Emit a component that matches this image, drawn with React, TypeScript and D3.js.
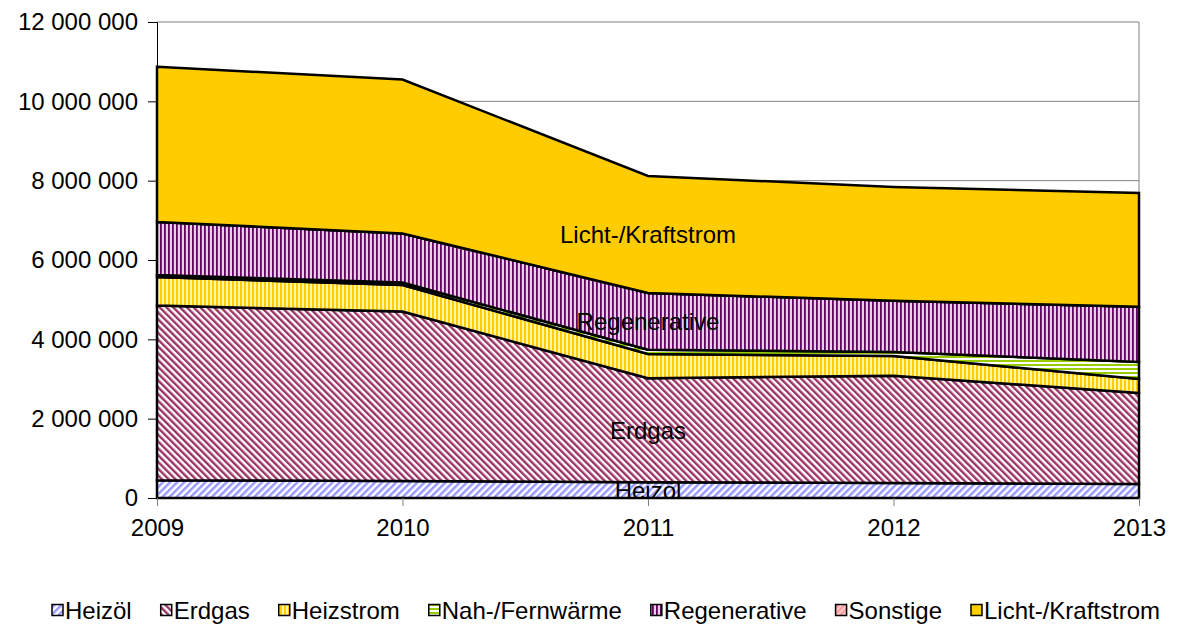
import React, { useEffect, useRef } from 'react';
import * as d3 from 'd3';

const years = [2009, 2010, 2011, 2012, 2013];
const seriesNames = ['Heizöl', 'Erdgas', 'Heizstrom', 'Nah-/Fernwärme', 'Regenerative', 'Sonstige', 'Licht-/Kraftstrom'];
const heizoel = [450000, 430000, 400000, 380000, 350000];
const erdgas = [4400000, 4270000, 2620000, 2700000, 2300000];
const heizstrom = [720000, 670000, 610000, 500000, 350000];
const fernwaerme = [50000, 60000, 110000, 100000, 430000];
const regenerative = [1340000, 1240000, 1430000, 1290000, 1390000];
const sonstige = [0, 0, 0, 0, 0];
const licht = [3910000, 3880000, 2950000, 2870000, 2870000];
const yTicks = [0, 2000000, 4000000, 6000000, 8000000, 10000000, 12000000];
// labels shown inside the chart (at 2011)
const areaLabels = ['Heizöl', 'Erdgas', 'Regenerative', 'Licht-/Kraftstrom'];

const FONT = '"Liberation Sans", Arial, sans-serif';

const App = () => {
  const svgRef = useRef<SVGSVGElement>(null);

  useEffect(() => {
    if (!svgRef.current) return;
    const svg = d3.select(svgRef.current);
    svg.selectAll('*').remove();

    const width = 1177;
    const height = 624;
    const margin = { top: 22, right: 38, bottom: 126, left: 157 };
    svg.attr('width', width).attr('height', height);

    const rows = years.map((y, i) => ({
      year: y,
      'Heizöl': heizoel[i],
      'Erdgas': erdgas[i],
      'Heizstrom': heizstrom[i],
      'Nah-/Fernwärme': fernwaerme[i],
      'Regenerative': regenerative[i],
      'Sonstige': sonstige[i],
      'Licht-/Kraftstrom': licht[i],
    }));

    const x = d3.scaleLinear().domain([2009, 2013]).range([margin.left, width - margin.right]);
    const y = d3.scaleLinear().domain([0, 12000000]).range([height - margin.bottom, margin.top]);

    // patterns
    const defs = svg.append('defs');
    const stripe = (id, size, c1, c2, w2, angle) => {
      const p = defs.append('pattern').attr('id', id).attr('patternUnits', 'userSpaceOnUse')
        .attr('width', size).attr('height', size)
        .attr('patternTransform', `rotate(${angle})`);
      p.append('rect').attr('width', size).attr('height', size).attr('fill', c1);
      p.append('rect').attr('width', w2).attr('height', size).attr('fill', c2);
    };
    stripe('p0', 5, '#ffffff', '#9999ff', 2.5, 45);
    stripe('p1', 4.8, '#ffffff', '#993366', 2.4, -45);
    stripe('p2', 4, '#fff7a8', '#ffcc00', 2, 0);
    stripe('p3', 4, '#ffffff', '#99cc00', 2, 90);
    stripe('p4', 4, '#e8cfe8', '#660066', 1.8, 0);
    stripe('p5', 4, '#ffcccc', '#ff9999', 2, 45);
    const fills = ['url(#p0)', 'url(#p1)', 'url(#p2)', 'url(#p3)', 'url(#p4)', 'url(#p5)', '#ffcc00'];

    // gridlines
    svg.append('g').selectAll('line').data(yTicks.slice(1)).enter().append('line')
      .attr('x1', margin.left).attr('x2', width - margin.right)
      .attr('y1', d => y(d)).attr('y2', d => y(d))
      .attr('stroke', '#808080').attr('stroke-width', 1);
    svg.append('line')
      .attr('x1', width - margin.right).attr('x2', width - margin.right)
      .attr('y1', margin.top).attr('y2', height - margin.bottom)
      .attr('stroke', '#808080').attr('stroke-width', 1);

    const stack = d3.stack().keys(seriesNames);
    const layers = stack(rows as any);

    const area = d3.area<any>()
      .x(d => x(d.data.year))
      .y0(d => y(d[0]))
      .y1(d => y(d[1]));

    svg.append('g').selectAll('path').data(layers).enter().append('path')
      .attr('d', d => area(d as any) + 'Z')
      .attr('fill', (d, i) => fills[i])
      .attr('stroke', '#000')
      .attr('stroke-width', 2.5)
      .attr('stroke-linejoin', 'miter');

    // axes
    const yAxis = d3.axisLeft(y).tickValues(yTicks).tickSize(9).tickPadding(10)
      .tickFormat(d => d3.format(',')(d as number).replace(/,/g, ' '));
    const gy = svg.append('g').attr('transform', `translate(${margin.left},0)`).call(yAxis);
    gy.select('.domain').attr('stroke', '#000');
    gy.selectAll('text').attr('font-family', FONT).attr('font-size', 24).attr('fill', '#000');

    const xAxis = d3.axisBottom(x).tickValues(years).tickSize(8).tickPadding(13)
      .tickFormat(d3.format('d'));
    const gx = svg.append('g').attr('transform', `translate(0,${height - margin.bottom})`).call(xAxis);
    gx.select('.domain').attr('stroke', '#000');
    gx.selectAll('.tick line').attr('stroke', '#808080');
    gx.selectAll('text').attr('font-family', FONT).attr('font-size', 24).attr('fill', '#000');

    // in-chart labels at 2011
    const idx = 2;
    svg.append('g').selectAll('text')
      .data(layers.filter(l => areaLabels.includes(l.key))).enter().append('text')
      .attr('x', x(years[idx]))
      .attr('y', d => y((d[idx][0] + d[idx][1]) / 2))
      .attr('dy', '0.36em')
      .attr('text-anchor', 'middle')
      .attr('font-family', FONT).attr('font-size', 24).attr('fill', '#000')
      .text(d => d.key);

    // legend
    const lg = svg.append('g');
    let cx = 52;
    const ly = 610;
    seriesNames.forEach((name, i) => {
      lg.append('rect').attr('x', cx).attr('y', ly - 5.5).attr('width', 11).attr('height', 11)
        .attr('fill', fills[i]).attr('stroke', '#000').attr('stroke-width', 1.5);
      const t = lg.append('text').attr('x', cx + 13).attr('y', ly).attr('dy', '0.36em')
        .attr('font-family', FONT).attr('font-size', 24).attr('fill', '#000').text(name);
      const w = (t.node() as SVGTextElement).getComputedTextLength();
      cx += 13 + w + 29;
    });
  }, []);

  return (
    <div style={{ position: 'absolute', left: 0, top: 0 }}>
      <svg ref={svgRef}></svg>
    </div>
  );
};

export default App;
